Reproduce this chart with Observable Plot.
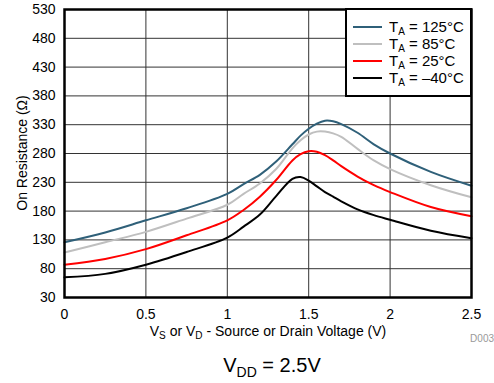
<!DOCTYPE html>
<html><head><meta charset="utf-8">
<script src="https://cdn.jsdelivr.net/npm/d3@7"></script>
<script src="https://cdn.jsdelivr.net/npm/@observablehq/plot@0.6"></script>
<style>
body{margin:0;background:#fff;}
#wrap{width:494px;height:383px;}
</style></head><body><div id="wrap"></div>
<script>
const voltage = [0,0.25,0.5,0.75,1.0,1.1,1.2,1.3,1.4,1.45,1.5,1.55,1.6,1.65,1.7,1.8,1.9,2.0,2.25,2.5];
const r125 = [126,143,164,185,210,227,243,266,296,311,323,332,337,336,331,316,296,280,248,224];
const r85  = [108,126,144,167,191,210,228,253,289,303,313,318,318,315,309,288,268,253,225,204];
const r25  = [87,97,114,138,164,182,205,234,268,279,284,283,277,268,258,240,225,213,187,171];
const rm40 = [65,71,87,109,134,153,174,206,236,239,233,223,213,205,197,183,173,165,146,133];
const seriesNames = ["125°C","85°C","25°C","–40°C"];
const seriesValues = [r125, r85, r25, rm40];
const seriesColors = ["#2f6079","#bfbfbf","#ff0000","#000000"];
const xTicks = [0,0.5,1,1.5,2,2.5];
const yTicks = [30,80,130,180,230,280,330,380,430,480,530];

const data = [];
seriesNames.forEach((name, i) => {
  voltage.forEach((v, j) => data.push({series: name, v, r: seriesValues[i][j]}));
});

const font = '"Liberation Sans", Arial, sans-serif';
const chart = Plot.plot({
  width: 494, height: 383,
  marginLeft: 64, marginRight: 23, marginTop: 9, marginBottom: 86,
  style: {fontFamily: font, fontSize: "14px", color: "#000", background: "#fff"},
  x: {domain: [0, 2.5], ticks: xTicks, tickFormat: d => String(d), tickSize: 0, tickPadding: 12, label: null},
  y: {domain: [30, 530], ticks: yTicks, tickSize: 0, tickPadding: 9, label: null},
  color: {domain: seriesNames, range: seriesColors},
  marks: [
    Plot.gridX(xTicks, {stroke: "#333", strokeOpacity: 1, strokeWidth: 1}),
    Plot.gridY(yTicks, {stroke: "#333", strokeOpacity: 1, strokeWidth: 1}),
    Plot.line(data, {x: "v", y: "r", z: "series", stroke: "series", strokeWidth: 2, curve: "catmull-rom"}),
    Plot.frame({stroke: "#000", strokeWidth: 2.5})
  ]
});
document.getElementById("wrap").appendChild(chart);

const svg = d3.select(chart);
// Legend
const lg = svg.append("g").attr("font-family", font).attr("text-anchor", "start");
lg.append("rect").attr("x", 346).attr("y", 9).attr("width", 125).attr("height", 87)
  .attr("fill", "#fff").attr("stroke", "#000").attr("stroke-width", 2);
seriesNames.forEach((name, i) => {
  const y = 27 + i * 17;
  lg.append("line").attr("x1", 353).attr("x2", 382).attr("y1", y).attr("y2", y)
    .attr("stroke", seriesColors[i]).attr("stroke-width", 2);
  const t = lg.append("text").attr("x", 389).attr("y", y + 5).attr("font-size", 15)
    .attr("text-anchor", "start").attr("fill", "#000");
  t.append("tspan").text("T");
  t.append("tspan").attr("font-size", 10).attr("dy", 3).text("A");
  t.append("tspan").attr("dy", -3).text(" = " + name);
});
// X axis label
const xl = svg.append("text").attr("x", 268).attr("y", 336).attr("text-anchor", "middle")
  .attr("font-family", font).attr("font-size", 14).attr("fill", "#000");
xl.append("tspan").text("V");
xl.append("tspan").attr("font-size", 10).attr("dy", 3).text("S");
xl.append("tspan").attr("dy", -3).text(" or V");
xl.append("tspan").attr("font-size", 10).attr("dy", 3).text("D");
xl.append("tspan").attr("dy", -3).text(" - Source or Drain Voltage (V)");
// Y axis label
svg.append("text").attr("transform", "translate(27,153) rotate(-90)").attr("text-anchor", "middle")
  .attr("font-family", font).attr("font-size", 14).attr("fill", "#000").text("On Resistance (Ω)");
// D003
svg.append("text").attr("x", 494).attr("y", 342).attr("text-anchor", "end")
  .attr("font-family", font).attr("font-size", 10).attr("fill", "#999").text("D003");
// Caption
const cap = svg.append("text").attr("x", 272).attr("y", 372).attr("text-anchor", "middle")
  .attr("font-family", font).attr("font-size", 20).attr("fill", "#000");
cap.append("tspan").text("V");
cap.append("tspan").attr("font-size", 14).attr("dy", 5).text("DD");
cap.append("tspan").attr("dy", -5).text(" = 2.5V");
</script></body></html>
